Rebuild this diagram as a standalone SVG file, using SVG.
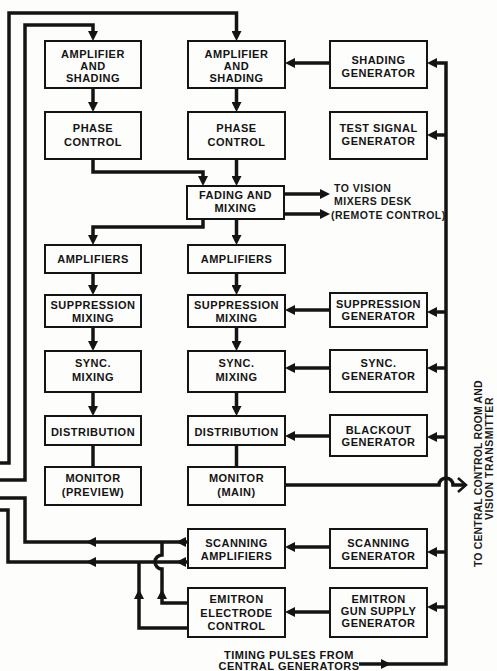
<svg xmlns="http://www.w3.org/2000/svg" xmlns:xlink="http://www.w3.org/1999/xlink" width="497" height="671" viewBox="0 0 497 671">
<style>
.bg{fill:#fdfdfb}
.box{fill:#fdfdfb;stroke:#141414;stroke-width:2}
.t{font-family:"Liberation Sans",Arial,sans-serif;font-weight:bold;font-size:11px;letter-spacing:0.5px;fill:#141414;text-anchor:middle}
.a{font-family:"Liberation Sans",Arial,sans-serif;font-weight:bold;font-size:10.5px;letter-spacing:0.5px;fill:#1a1a1a}
.ln{fill:none;stroke:#141414;stroke-width:3.5}
.m{marker-end:url(#arr)}
.hd{fill:#141414}
</style>
<defs>
<marker id="arr" viewBox="0 0 10 10" refX="6" refY="5" markerWidth="10" markerHeight="10" markerUnits="userSpaceOnUse" orient="auto">
<path d="M0,0 L10,5 L0,10 Z" fill="#141414"/>
</marker>
<path id="ah" d="M0,0 L-10,-5 L-10,5 Z"/>
</defs>
<rect class="bg" x="0" y="0" width="497" height="671"/>

<g id="connectors">
<path class="ln m" d="M0,463 H9 V13 H236.5 V37"/>
<path class="ln m" d="M0,480 H25 V25 H93 V37"/>
<path class="ln m" d="M93,88 V108"/>
<path class="ln m" d="M236.5,88 V108"/>
<path class="ln m" d="M93,159 V172 H203 V182"/>
<path class="ln m" d="M236.5,159 V182"/>
<path class="ln m" d="M203,219 V227 H93 V241"/>
<path class="ln m" d="M236.5,219 V241"/>
<path class="ln m" d="M284,194 H326"/>
<path class="ln m" d="M284,214 H326"/>
<path class="ln m" d="M93,273 V291"/>
<path class="ln m" d="M236.5,273 V291"/>
<path class="ln m" d="M93,327 V347"/>
<path class="ln m" d="M236.5,327 V347"/>
<path class="ln m" d="M93,392 V412"/>
<path class="ln m" d="M236.5,392 V412"/>
<path class="ln" d="M93,445 V467"/>
<path class="ln" d="M236.5,445 V467"/>
<path class="ln m" d="M330,63 H289"/>
<path class="ln m" d="M330,310 H289"/>
<path class="ln m" d="M330,368 H289"/>
<path class="ln m" d="M330,436 H289"/>
<path class="ln m" d="M330,547 H289"/>
<path class="ln m" d="M330,612 H289"/>
<path class="ln m" d="M359,664 H446 V63 H431"/>
<path class="ln m" d="M446,135 H431"/>
<path class="ln m" d="M446,312 H431"/>
<path class="ln m" d="M446,368 H431"/>
<path class="ln m" d="M446,437 H431"/>
<path class="ln m" d="M446,552 H431"/>
<path class="ln m" d="M446,607 H431"/>
<use href="#ah" class="hd" transform="translate(391,664)"/>
<path class="ln" d="M285,485 H439 A7,7 0 0 1 453,485 H465"/>
<path d="M458,478 L466,485 L458,492" fill="none" stroke="#141414" stroke-width="2.5"/>
<path class="ln" d="M188,542 H25 V498 H0"/>
<path class="ln" d="M188,562 H8 V510 H0"/>
<use href="#ah" class="hd" transform="translate(176,542) rotate(180)"/>
<use href="#ah" class="hd" transform="translate(176,562) rotate(180)"/>
<use href="#ah" class="hd" transform="translate(86,542) rotate(180)"/>
<use href="#ah" class="hd" transform="translate(86,562) rotate(180)"/>
<path class="ln" d="M188,603 H162 V569 A7,7 0 0 1 162,555 V542"/>
<path class="ln" d="M188,628 H139 V562"/>
<use href="#ah" class="hd" transform="translate(162,589) rotate(-90)"/>
<use href="#ah" class="hd" transform="translate(139,589) rotate(-90)"/>
</g>

<g id="amp-shading-left"><rect class="box" x="45" y="41" width="96" height="47"/>
<text class="t" x="93" y="58">AMPLIFIER</text><text class="t" x="93" y="70">AND</text><text class="t" x="93" y="82">SHADING</text></g>
<g id="amp-shading-mid"><rect class="box" x="188" y="41" width="97" height="47"/>
<text class="t" x="236.5" y="58">AMPLIFIER</text><text class="t" x="236.5" y="70">AND</text><text class="t" x="236.5" y="82">SHADING</text></g>
<g id="shading-gen"><rect class="box" x="330" y="41" width="97" height="47"/>
<text class="t" x="378.5" y="64">SHADING</text><text class="t" x="378.5" y="77">GENERATOR</text></g>

<g id="phase-left"><rect class="box" x="45" y="112" width="96" height="47"/>
<text class="t" x="93" y="132">PHASE</text><text class="t" x="93" y="146">CONTROL</text></g>
<g id="phase-mid"><rect class="box" x="188" y="112" width="97" height="47"/>
<text class="t" x="236.5" y="132">PHASE</text><text class="t" x="236.5" y="146">CONTROL</text></g>
<g id="test-signal"><rect class="box" x="330" y="112" width="97" height="47"/>
<text class="t" x="378.5" y="132">TEST SIGNAL</text><text class="t" x="378.5" y="145">GENERATOR</text></g>

<g id="fading"><rect class="box" x="187" y="186" width="97" height="33"/>
<text class="t" x="235.5" y="199">FADING AND</text><text class="t" x="235.5" y="212">MIXING</text></g>
<g id="vision-desk-label">
<text class="a" x="334" y="192">TO VISION</text>
<text class="a" x="334" y="205">MIXERS DESK</text>
<text class="a" x="331" y="219">(REMOTE CONTROL)</text></g>

<g id="amps-left"><rect class="box" x="45" y="245" width="96" height="28"/>
<text class="t" x="93" y="263">AMPLIFIERS</text></g>
<g id="amps-mid"><rect class="box" x="188" y="245" width="97" height="28"/>
<text class="t" x="236.5" y="263">AMPLIFIERS</text></g>

<g id="supp-left"><rect class="box" x="45" y="295" width="96" height="32"/>
<text class="t" x="93" y="309">SUPPRESSION</text><text class="t" x="93" y="322">MIXING</text></g>
<g id="supp-mid"><rect class="box" x="188" y="295" width="97" height="32"/>
<text class="t" x="236.5" y="309">SUPPRESSION</text><text class="t" x="236.5" y="322">MIXING</text></g>
<g id="supp-gen"><rect class="box" x="330" y="293" width="97" height="34"/>
<text class="t" x="378.5" y="308">SUPPRESSION</text><text class="t" x="378.5" y="320">GENERATOR</text></g>

<g id="sync-left"><rect class="box" x="45" y="351" width="96" height="41"/>
<text class="t" x="93" y="367">SYNC.</text><text class="t" x="93" y="381">MIXING</text></g>
<g id="sync-mid"><rect class="box" x="188" y="351" width="97" height="41"/>
<text class="t" x="236.5" y="367">SYNC.</text><text class="t" x="236.5" y="381">MIXING</text></g>
<g id="sync-gen"><rect class="box" x="330" y="350" width="97" height="42"/>
<text class="t" x="378.5" y="367">SYNC.</text><text class="t" x="378.5" y="380">GENERATOR</text></g>

<g id="dist-left"><rect class="box" x="45" y="416" width="96" height="29"/>
<text class="t" x="93" y="436">DISTRIBUTION</text></g>
<g id="dist-mid"><rect class="box" x="188" y="416" width="97" height="29"/>
<text class="t" x="236.5" y="436">DISTRIBUTION</text></g>
<g id="blackout-gen"><rect class="box" x="330" y="415" width="97" height="41"/>
<text class="t" x="378.5" y="434">BLACKOUT</text><text class="t" x="378.5" y="446">GENERATOR</text></g>

<g id="monitor-preview"><rect class="box" x="45" y="467" width="96" height="38"/>
<text class="t" x="93" y="482">MONITOR</text><text class="t" x="93" y="496">(PREVIEW)</text></g>
<g id="monitor-main"><rect class="box" x="188" y="467" width="97" height="38"/>
<text class="t" x="236.5" y="482">MONITOR</text><text class="t" x="236.5" y="496">(MAIN)</text></g>

<g id="scan-amps"><rect class="box" x="188" y="529" width="97" height="39"/>
<text class="t" x="236.5" y="547">SCANNING</text><text class="t" x="236.5" y="560">AMPLIFIERS</text></g>
<g id="scan-gen"><rect class="box" x="330" y="529" width="97" height="39"/>
<text class="t" x="378.5" y="547">SCANNING</text><text class="t" x="378.5" y="560">GENERATOR</text></g>

<g id="emitron-electrode"><rect class="box" x="188" y="588" width="97" height="49"/>
<text class="t" x="236.5" y="603">EMITRON</text><text class="t" x="236.5" y="617">ELECTRODE</text><text class="t" x="236.5" y="630">CONTROL</text></g>
<g id="emitron-gun"><rect class="box" x="330" y="588" width="97" height="49"/>
<text class="t" x="378.5" y="603">EMITRON</text><text class="t" x="378.5" y="615">GUN SUPPLY</text><text class="t" x="378.5" y="627">GENERATOR</text></g>

<g id="timing-label">
<text class="t" x="289" y="659">TIMING PULSES FROM</text>
<text class="t" x="289" y="670">CENTRAL GENERATORS</text></g>

<g id="transmitter-label">
<text class="a" transform="translate(482,567) rotate(-90)" textLength="187" lengthAdjust="spacing">TO CENTRAL CONTROL ROOM AND</text>
<text class="a" transform="translate(493,520) rotate(-90)" textLength="123" lengthAdjust="spacing">VISION TRANSMITTER</text>
</g>
</svg>
